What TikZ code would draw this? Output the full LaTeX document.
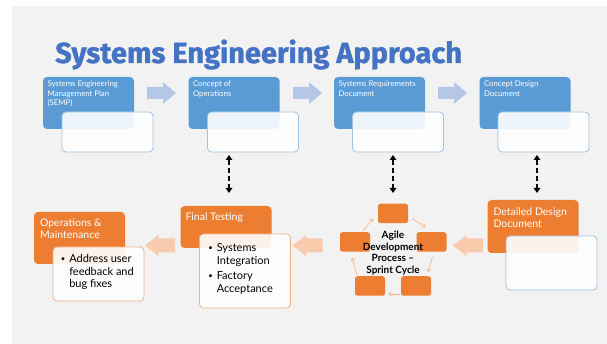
\documentclass[tikz,border=0pt]{standalone}
\usepackage{fontspec}
\setmainfont{Lato}
\newfontfamily\titlefont[FakeBold=1.2]{Fira Sans}
\usetikzlibrary{arrows.meta,calc}

\definecolor{pageGray}{HTML}{F2F2F2}
\definecolor{titleBlue}{HTML}{4472C4}
\definecolor{boxBlue}{HTML}{5B9BD5}
\definecolor{edgeBlue}{HTML}{9DC3E6}
\definecolor{arrowBlue}{HTML}{B4C7E7}
\definecolor{boxOrange}{HTML}{ED7D31}
\definecolor{edgeOrange}{HTML}{F4B183}
\definecolor{arrowOrange}{HTML}{F8CBAD}

\newcommand{\smallbullet}{\raisebox{1.5pt}{\scalebox{0.7}{\textbullet}}}

\tikzset{
  bluebox/.style={fill=boxBlue, rounded corners=4pt, minimum width=91pt, minimum height=52pt, inner sep=0pt},
  orangebox/.style={fill=boxOrange, rounded corners=4pt, minimum width=91pt, inner sep=0pt},
  notebox/.style={fill=white, fill opacity=0.9, draw=edgeBlue, line width=0.8pt, rounded corners=4pt,
                  minimum width=91pt, inner sep=0pt},
  onotebox/.style={notebox, draw=edgeOrange},
  sprintbox/.style={fill=boxOrange, rounded corners=2.5pt, minimum width=30pt, minimum height=19.5pt, inner sep=0pt},
  headtext/.style={text=white, align=left, inner sep=0pt, anchor=north west,
                   font=\fontsize{7.8}{9.5}\selectfont},
  otext/.style={text=white, align=left, inner sep=0pt, anchor=north west,
                font=\fontsize{10.5}{12}\selectfont},
  bullettext/.style={text=black, inner sep=0pt, anchor=north west,
                     font=\fontsize{11}{12.5}\selectfont},
  linkarrow/.style={black, line width=1.8pt, dash pattern=on 5pt off 3pt,
                    {Triangle[length=5pt,width=6.5pt]}-{Triangle[length=5pt,width=6.5pt]}},
  cyclearrow/.style={edgeOrange, line width=0.6pt, -{Straight Barb[length=2.5pt,width=4pt]}},
  rblock/.pic={\fill[arrowBlue] (-14.5,-6) -- (1.5,-6) -- (1.5,-11) -- (14.5,0) -- (1.5,11) -- (1.5,6) -- (-14.5,6) -- cycle;},
  lblock/.pic={\fill[arrowOrange] (15,-7) -- (-1.5,-7) -- (-1.5,-10.5) -- (-15,0) -- (-1.5,10.5) -- (-1.5,7) -- (15,7) -- cycle;}
}

\begin{document}
\begin{tikzpicture}[x=1pt,y=-1pt]
  % page and slide background
  \useasboundingbox (0,0) rectangle (607,344);
  \fill[white] (0,0) rectangle (607,344);
  \fill[pageGray] (12,6) rectangle (607,344);

  % title
  \node[anchor=base west, inner sep=0pt, text=titleBlue, font=\titlefont\bfseries\fontsize{29}{32}\selectfont]
    (title) at (55,63) {Systems Engineering Approach};

  % top row: planning documents
  \node[bluebox] (b1) at (88.5,103) {};
  \node[bluebox] (b2) at (234,103) {};
  \node[bluebox] (b3) at (379.5,103) {};
  \node[bluebox] (b4) at (525,103) {};
  \node[headtext] (t1) at ($(b1.north west)+(4.5,4)$) {Systems Engineering\\Management Plan\\(SEMP)};
  \node[headtext] (t2) at ($(b2.north west)+(4.5,4)$) {Concept of\\Operations};
  \node[headtext] (t3) at ($(b3.north west)+(4.5,4)$) {Systems Requirements\\Document};
  \node[headtext] (t4) at ($(b4.north west)+(4.5,4)$) {Concept Design\\Document};
  \node[notebox, minimum height=40pt] (w1) at (107.5,132) {};
  \node[notebox, minimum height=40pt] (w2) at (253,132) {};
  \node[notebox, minimum height=40pt] (w3) at (398,132) {};
  \node[notebox, minimum height=40pt] (w4) at (543.5,132) {};

  % forward arrows between the top boxes
  \pic at (161.5,93) {rblock};
  \pic at (307.5,93) {rblock};
  \pic at (452.5,93) {rblock};

  % bottom row
  \node[orangebox, minimum height=52pt] (o1) at (79.5,238) {};
  \node[otext] (ot1) at ($(o1.north west)+(6,7)$) {Operations \&\\Maintenance};
  \node[onotebox, minimum height=54pt] (ow1) at (98.5,274) {};
  \node[bullettext] (bt1) at ($(ow1.north west)+(8,7)$)
    {\begin{tabular}{@{}l@{\hspace{4pt}}l@{}}\smallbullet & Address user\\ & feedback and\\ & bug fixes\end{tabular}};

  \node[orangebox, minimum height=42pt] (o2) at (226,227) {};
  \node[otext] (ot2) at ($(o2.north west)+(5,7)$) {Final Testing};
  \node[onotebox, minimum height=74pt] (ow2) at (245,271) {};
  \node[bullettext] (bt2) at ($(ow2.north west)+(9,9)$)
    {\begin{tabular}{@{}l@{\hspace{4pt}}l@{}}\smallbullet & Systems\\ & Integration\\[3pt] \smallbullet & Factory\\ & Acceptance\end{tabular}};

  \node[orangebox, minimum height=53pt] (o3) at (533,226.5) {};
  \node[otext] (ot3) at ($(o3.north west)+(6,8)$) {Detailed Design\\Document};
  \node[notebox, minimum height=54pt] (ow3) at (551.5,263) {};

  % sprint cycle
  \node[sprintbox] (s1) at (393,213.5) {};
  \node[sprintbox] (s2) at (431.5,242) {};
  \node[sprintbox] (s3) at (416,286) {};
  \node[sprintbox] (s4) at (370,286) {};
  \node[sprintbox] (s5) at (355,242) {};
  \node[align=center, inner sep=0pt, font=\bfseries\fontsize{10}{11.7}\selectfont] (agile) at (393,253)
    {Agile\\Development\\Process --\\Sprint Cycle};
  \draw[cyclearrow] ($(s1.east)+(4,5)$) -- ($(s2.north)+(-6,-5)$);
  \draw[cyclearrow] ($(s2.south)+(1,5)$) -- ($(s3.north)+(12,-4)$);
  \draw[cyclearrow] ($(s3.west)+(-1,8)$) -- ($(s4.east)+(3,8)$);
  \draw[cyclearrow] ($(s4.north)+(-13,-1)$) -- ($(s5.south)+(-3,6)$);
  \draw[cyclearrow] ($(s5.north)+(8,-1)$) -- ($(s1.west)+(-5,5)$);

  % backward arrows between the bottom boxes
  \pic at (160,245.5) {lblock};
  \pic at (307.5,245.5) {lblock};
  \pic at (468,245.5) {lblock};

  % links between the two rows
  \coordinate (l1a) at (229,155); \coordinate (l1b) at (229,193);
  \coordinate (l2a) at (393,155); \coordinate (l2b) at (393,193);
  \coordinate (l3a) at (537,155); \coordinate (l3b) at (537,193);
  \draw[linkarrow] (l1a) -- (l1b);
  \draw[linkarrow] (l2a) -- (l2b);
  \draw[linkarrow] (l3a) -- (l3b);
\end{tikzpicture}
\end{document}
